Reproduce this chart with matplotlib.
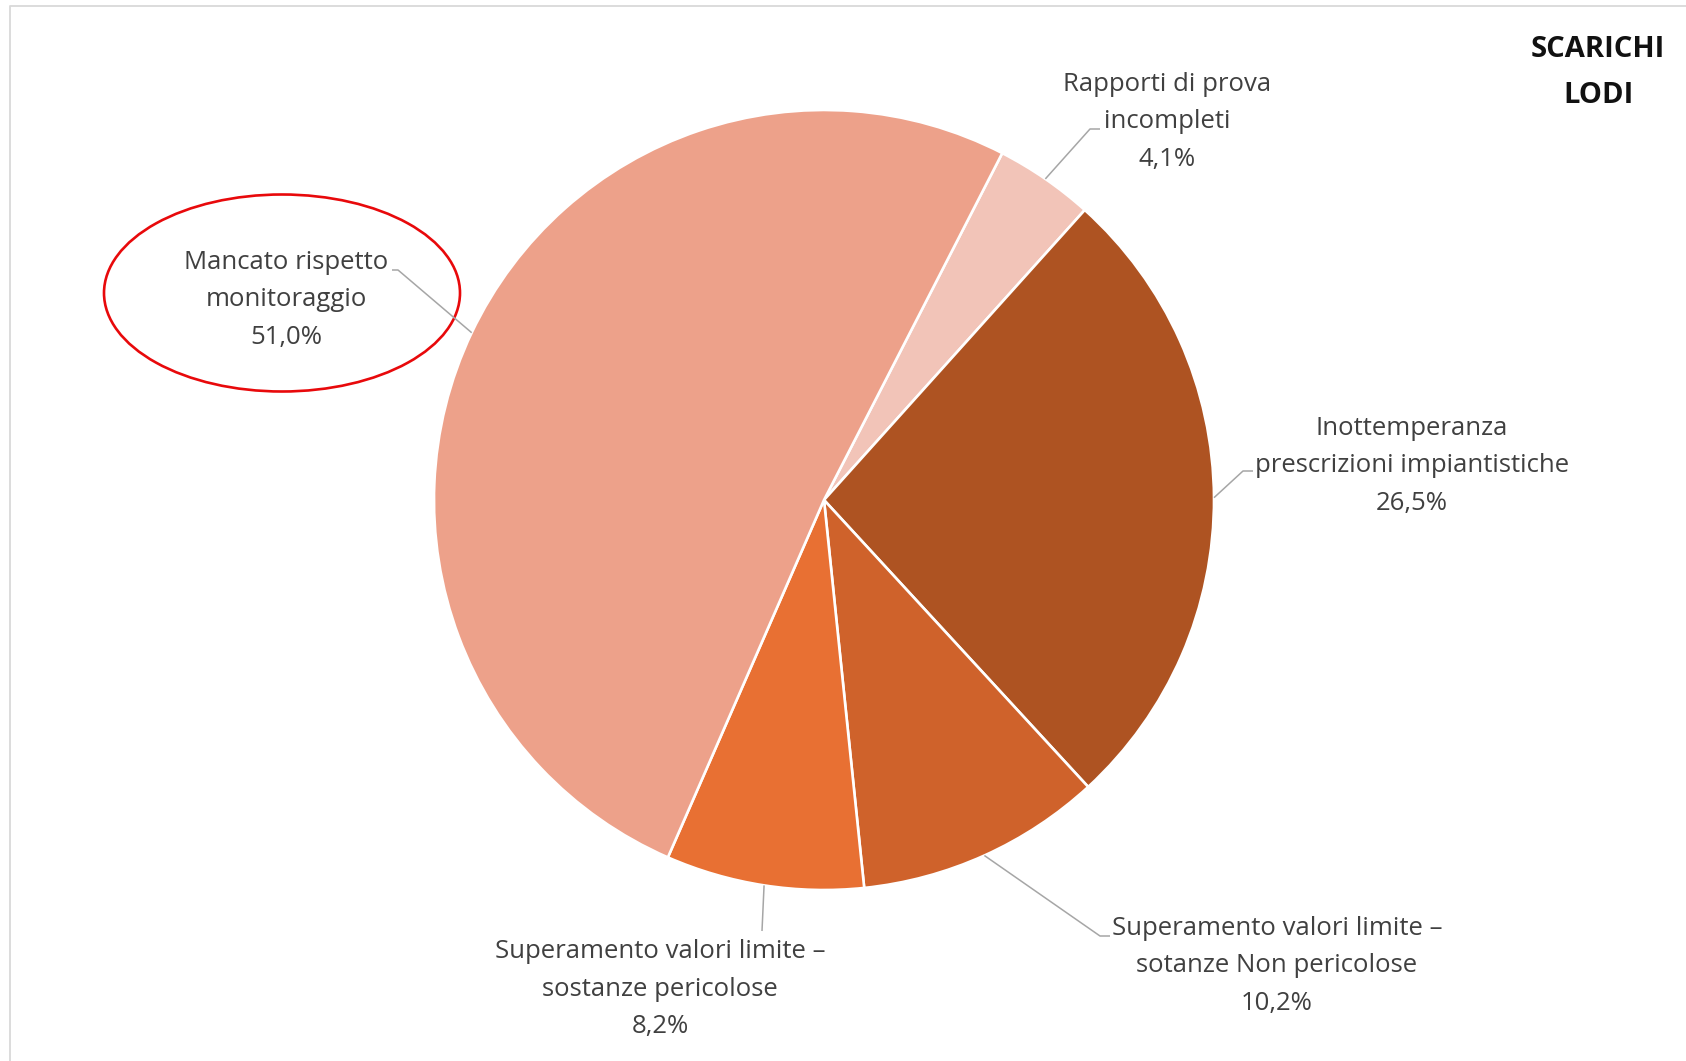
import numpy as np
import matplotlib
matplotlib.use("Agg")
import matplotlib.pyplot as plt
from matplotlib.patches import Ellipse

# data, clockwise from the top-right wedge
categories = [
    "Rapporti di prova\nincompleti",
    "Inottemperanza\nprescrizioni impiantistiche",
    "Superamento valori limite –\nsotanze Non pericolose",
    "Superamento valori limite –\nsostanze pericolose",
    "Mancato rispetto\nmonitoraggio",
]
values = [4.1, 26.5, 10.2, 8.2, 51.0]
colors = ["#F2C4B8", "#AE5322", "#CF622B", "#E87033", "#EDA18A"]
title_lines = ["SCARICHI", "LODI"]

W, H = 1686, 1061
FONT = "Open Sans"
TXT = "#404040"
LEAD = "#A6A6A6"

# layout in pixel units (y measured from top)
center = (824, 500)
radius = 390
start_angle = 62.8
# label: x centre, first baseline, elbow point, end of horizontal stub
label_x = [1167, 1412, 1277, 660, 286]
label_y0 = [91, 435, 935, 958, 269]
elbows = [(1090, 129), (1243, 471), (1100, 936), (762, 931), (398, 270)]
stubs = [(1100, 129), (1253, 471), (1110, 936), None, (392, 270)]
line_step = 37.5


def fy(y):
    return H - y


fig = plt.figure(figsize=(W / 100, H / 100), dpi=100)
ax = fig.add_axes([0, 0, 1, 1])

wedges, _ = ax.pie(
    values,
    colors=colors,
    startangle=start_angle,
    counterclock=False,
    center=(center[0], fy(center[1])),
    radius=radius,
    wedgeprops=dict(edgecolor="white", linewidth=1.9),
)
ax.set_xlim(0, W)
ax.set_ylim(0, H)
ax.set_aspect("equal")
ax.axis("off")

for i, w in enumerate(wedges):
    mid = np.deg2rad((w.theta1 + w.theta2) / 2)
    ax_x = center[0] + radius * np.cos(mid)
    ax_y = fy(center[1]) + radius * np.sin(mid)
    xs = [ax_x, elbows[i][0]]
    ys = [ax_y, fy(elbows[i][1])]
    if stubs[i] is not None:
        xs.append(stubs[i][0])
        ys.append(fy(stubs[i][1]))
    ax.plot(xs, ys, color=LEAD, lw=1.1, solid_capstyle="butt")

    lines = categories[i].split("\n") + [f"{values[i]:.1f}".replace(".", ",") + "%"]
    for k, line in enumerate(lines):
        ax.text(label_x[i], fy(label_y0[i] + k * line_step), line,
                ha="center", va="baseline", fontsize=18.5,
                family=FONT, color=TXT)

# title in the top-right corner
for k, t in enumerate(title_lines):
    ax.text(1598, fy(57 + k * 46), t, ha="center", va="baseline",
            fontsize=21, fontweight="bold", family=FONT, color="#111111")

# red highlight around the largest slice label
ax.add_patch(Ellipse((282, fy(293)), 356, 197, fill=False,
                     edgecolor="#E8090B", lw=1.9))

# chart frame (only top and left edges visible)
ax.plot([10, 10, W], [0, fy(6), fy(6)], color="#D9D9D9", lw=1.3)

fig.savefig("out.png", dpi=100)
